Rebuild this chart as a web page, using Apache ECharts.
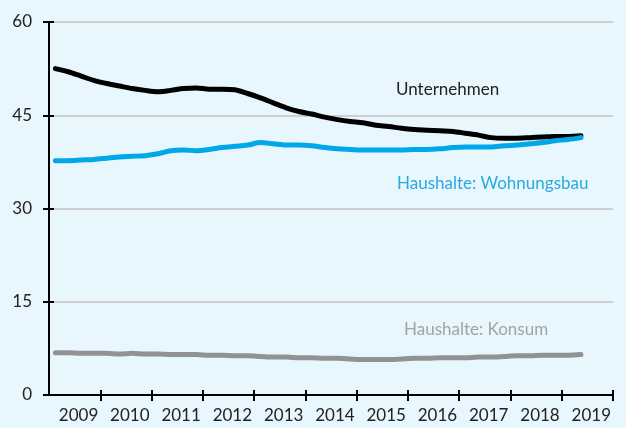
<!DOCTYPE html>
<html>
<head>
    <meta charset="utf-8">
    <title>Kredite</title>
    <script src="https://cdn.jsdelivr.net/npm/echarts@6/dist/echarts.min.js"></script>
    <style>
        body { margin: 0; background: #e8f6fd; }
        #main { width: 626px; height: 428px; }
    </style>
</head>
<body>
<div id="main"></div>

<script type="text/javascript">
    // Quartale 2009Q1 .. 2019Q4 (Daten bis 2019Q2)
    var quarters = [];
    for (var y = 2009; y <= 2019; y++) {
        for (var q = 1; q <= 4; q++) quarters.push(y + 'Q' + q);
    }

    var yearTicks = [2009, 2010, 2011, 2012, 2013, 2014, 2015, 2016, 2017, 2018, 2019, 2020];
    var yTicks = [0, 15, 30, 45, 60];

    var unternehmen = [
        52.5, 52.0, 51.3, 50.6, 50.1, 49.7, 49.3, 49.0, 48.8, 49.0, 49.3, 49.4,
        49.2, 49.2, 49.1, 48.5, 47.8, 47.0, 46.2, 45.6, 45.2, 44.7, 44.3, 44.0,
        43.8, 43.4, 43.2, 42.9, 42.7, 42.6, 42.5, 42.4, 42.1, 41.8, 41.4, 41.3,
        41.3, 41.4, 41.5, 41.6, 41.6, 41.7
    ];
    var wohnungsbau = [
        37.7, 37.7, 37.8, 37.9, 38.1, 38.3, 38.4, 38.5, 38.8, 39.3, 39.4, 39.3,
        39.5, 39.8, 40.0, 40.2, 40.6, 40.4, 40.2, 40.2, 40.1, 39.8, 39.6, 39.5,
        39.4, 39.4, 39.4, 39.4, 39.5, 39.5, 39.6, 39.8, 39.9, 39.9, 39.9, 40.1,
        40.2, 40.4, 40.6, 40.9, 41.1, 41.4
    ];
    var konsum = [
        6.8, 6.8, 6.7, 6.7, 6.7, 6.6, 6.7, 6.6, 6.6, 6.5, 6.5, 6.5,
        6.4, 6.4, 6.3, 6.3, 6.2, 6.1, 6.1, 6.0, 6.0, 5.9, 5.9, 5.8,
        5.7, 5.7, 5.7, 5.8, 5.9, 5.9, 6.0, 6.0, 6.0, 6.1, 6.1, 6.2,
        6.3, 6.3, 6.4, 6.4, 6.4, 6.5
    ];

    var font = 'Lato';
    var myChart = echarts.init(document.getElementById('main'));

    var yearAxis = function (inside) {
        return {
            type: 'value',
            position: 'bottom',
            offset: 0,
            min: yearTicks[0],
            max: yearTicks[yearTicks.length - 1],
            interval: 1,
            axisLine: { show: !inside, onZero: false, lineStyle: { color: '#000', width: 2 } },
            axisTick: { show: true, inside: inside, length: inside ? 5 : 6, lineStyle: { color: '#000', width: 2 } },
            splitLine: { show: false },
            axisLabel: {
                show: !inside,
                showMinLabel: false,
                align: 'right',
                margin: 12,
                padding: [0, 2, 0, 0],
                color: '#222',
                fontFamily: font,
                fontSize: 17,
                formatter: function (v) { return String(v - 1); }
            }
        };
    };

    var valueAxis = function (inside) {
        return {
            type: 'value',
            position: 'left',
            offset: 0,
            min: yTicks[0],
            max: yTicks[yTicks.length - 1],
            interval: 15,
            axisLine: { show: !inside, lineStyle: { color: '#000', width: 2 } },
            axisTick: { show: true, inside: inside, length: inside ? 5 : 6, lineStyle: { color: '#000', width: 2 } },
            splitLine: { show: !inside, lineStyle: { color: '#cfcfcf', width: 2 } },
            axisLabel: {
                show: !inside,
                margin: 17,
                color: '#222',
                fontFamily: font,
                fontSize: 17
            }
        };
    };

    var lineSeries = function (name, data, color) {
        return {
            name: name,
            type: 'line',
            xAxisIndex: 0,
            yAxisIndex: 0,
            data: data,
            smooth: 0.3,
            showSymbol: false,
            silent: true,
            z: 5,
            lineStyle: { color: color, width: 5, cap: 'round' }
        };
    };

    option = {
        backgroundColor: '#e8f6fd',
        animation: false,
        grid: { left: 49, right: 13, top: 22, bottom: 33 },
        xAxis: [
            {
                type: 'category',
                data: quarters,
                boundaryGap: true,
                show: false
            },
            yearAxis(false),
            yearAxis(true)
        ],
        yAxis: [valueAxis(false), valueAxis(true)],
        graphic: [
            { type: 'text', left: 396, top: 81, style: { text: 'Unternehmen', fill: '#222', font: '17px ' + font } },
            { type: 'text', left: 397, top: 175, style: { text: 'Haushalte: Wohnungsbau', fill: '#29a9e0', font: '17px ' + font } },
            { type: 'text', left: 404, top: 321, style: { text: 'Haushalte: Konsum', fill: '#a3a3a3', font: '17px ' + font } }
        ],
        series: [
            lineSeries('Unternehmen', unternehmen, '#000000'),
            lineSeries('Haushalte: Wohnungsbau', wohnungsbau, '#00a7e9'),
            lineSeries('Haushalte: Konsum', konsum, '#929292')
        ]
    };

    myChart.setOption(option);
</script>
</body>
</html>
